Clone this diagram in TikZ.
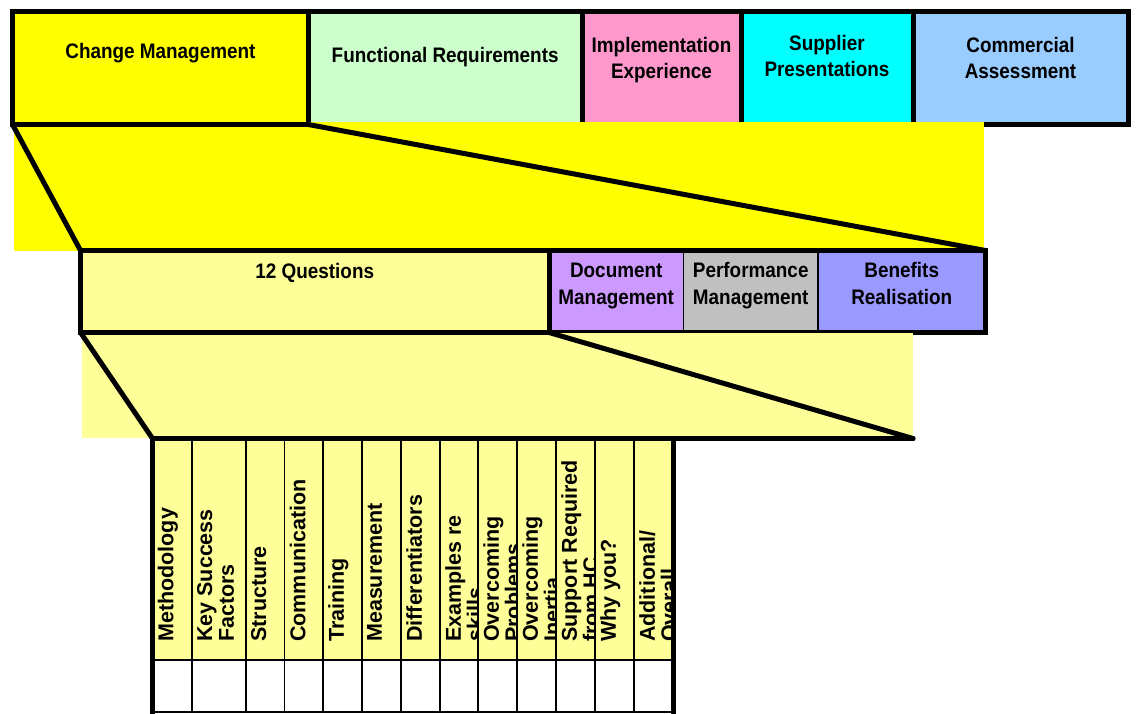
\documentclass[tikz,border=0pt]{standalone}
\usepackage{fontspec}
\setmainfont{Liberation Sans}
\newfontfamily\boxfont[FakeStretch=0.9]{Liberation Sans}
\usepackage{xcolor}

\definecolor{cmyellow}{HTML}{FFFF00}
\definecolor{frgreen}{HTML}{CCFFCC}
\definecolor{iepink}{HTML}{FF99CC}
\definecolor{spcyan}{HTML}{00FFFF}
\definecolor{cablue}{HTML}{99CCFF}
\definecolor{qyellow}{HTML}{FFFF99}
\definecolor{dmlilac}{HTML}{CC99FF}
\definecolor{pmgray}{HTML}{C0C0C0}
\definecolor{brblue}{HTML}{9999FF}

\begin{document}
\begin{tikzpicture}[x=1pt,y=-1pt,
  topbox/.style={draw,line width=5pt,inner sep=0pt,outer sep=0pt,anchor=north west,minimum height=113pt},
  midbox/.style={draw,line width=1.2pt,inner sep=0pt,outer sep=0pt,anchor=north west,minimum height=82pt},
  boxlbl/.style={font=\boxfont\bfseries\fontsize{21}{26.5}\selectfont,align=center,anchor=base,inner sep=0pt},
  zoomline/.style={line width=5pt,line cap=round},
  tblframe/.style={line width=5pt},
  cellline/.style={line width=1.2pt},
  qtext/.style={font=\bfseries\fontsize{21.5}{21.7}\selectfont,rotate=90,anchor=north west,align=left,inner sep=0pt}]
  \useasboundingbox (0,0) rectangle (1136,713);
  % top row of topics
  \foreach \name/\xa/\xb/\col in {cm/12.5/308.3/cmyellow, fr/308.3/582/frgreen, ie/582/741/iepink, sp/741/913/spcyan, ca/913/1128/cablue}
    \node[topbox,fill=\col,minimum width={(\xb-\xa)*1pt}] (\name) at (\xa,11.5) {};
  % labels sit on the baseline of their last line
  \foreach \name/\dy/\txt in {cm/47/{Change Management}, fr/50.5/{Functional Requirements}, ie/67/{Implementation\\Experience}, sp/65/{Supplier\\Presentations}, ca/67/{Commercial\\Assessment}}
    \node[boxlbl] (\name-lbl) at ([yshift=-\dy]\name.north) {\txt};
  % first zoom (change management)
  \fill[cmyellow] (14,122.3) rectangle (983.7,250.7);
  \draw[zoomline] (cm.south west) -- (cm.south east);
  % second row
  \foreach \name/\xa/\xb/\col in {q12/80.5/549/qyellow, dm/549/683.5/dmlilac, pm/683.5/818/pmgray, br/818/985.5/brblue}
    \node[midbox,fill=\col,minimum width={(\xb-\xa)*1pt}] (\name) at (\xa,250.5) {};
  \draw[tblframe] (q12.north west) rectangle (br.south east);
  \draw[tblframe] (q12.north east) -- (q12.south east);
  \draw[zoomline] (cm.south west) -- (q12.north west);
  \draw[zoomline] (cm.south east) -- (br.north east);
  \foreach \name/\dy/\txt in {q12/27.5/{12 Questions}, dm/53.5/{Document\\Management}, pm/53.5/{Performance\\Management}, br/53.5/{Benefits\\Realisation}}
    \node[boxlbl] (\name-lbl) at ([yshift=-\dy]\name.north) {\txt};
  % second zoom (12 questions)
  \fill[qyellow] (82,333) rectangle (913,438);
  \coordinate (tl) at (152.5,438.5);
  \coordinate (zb) at (913,438.5);
  % question table
  \foreach \xa/\xb/\qtxt [count=\i] in {152.5/192/Methodology, 192/246/{Key Success\\Factors}, 246/284.5/Structure, 284.5/323/Communication, 323/362/Training, 362/401/Measurement, 401/440/Differentiators, 440/478/{Examples re\\skills}, 478/517/{Overcoming\\Problems}, 517/556/{Overcoming\\Inertia}, 556/595/{Support Required\\from HC}, 595/634/{Why you?}, 634/673/{Additional/\\Overall}}{
    \fill[qyellow] (\xa,438) rectangle (\xb,660);
    \draw[cellline] (\xa,438) rectangle (\xb,660);
    \draw[cellline] (\xa,660) rectangle (\xb,712);
    \begin{scope}
      \clip (\xa,440) rectangle (\xb,660);
      \node[qtext] (hd\i) at (\xa+5,642) {\qtxt};
    \end{scope}
  }
  \draw[zoomline] (q12.south west) -- (q12.south east);
  \draw[zoomline] (q12.south west) -- (tl);
  \draw[zoomline] (q12.south east) -- (zb);
  \draw[zoomline] (tl) -- (zb);
  \draw[tblframe] (tl) -- ++(0,280);
  \draw[tblframe] (673,438.5) -- ++(0,280);
\end{tikzpicture}
\end{document}
